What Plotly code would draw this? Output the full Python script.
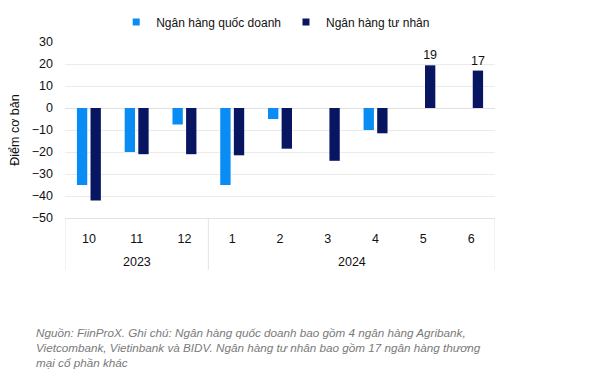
import plotly.graph_objects as go

years = ["2023", "2023", "2023", "2024", "2024", "2024", "2024", "2024", "2024"]
months = ["10", "11", "12", "1", "2", "3", "4", "5", "6"]
state_banks = [-35, -20, -7.5, -35, -5, None, -10, None, None]
private_banks = [-42, -21, -21, -21.5, -18.5, -24, -11.5, 19.4, 17]
name_state = "Ngân hàng quốc doanh"
name_private = "Ngân hàng tư nhân"
y_title = "Điểm cơ bản"
note = ("Nguồn: FiinProX. Ghi chú: Ngân hàng quốc doanh bao gồm 4 ngân hàng Agribank,<br>"
        "Vietcombank, Vietinbank và BIDV. Ngân hàng tư nhân bao gồm 17 ngân hàng thương<br>"
        "mại cổ phần khác")

C_STATE = "#0A8CF5"
C_PRIV = "#081662"
FONT = "Liberation Sans"
DIV_COLOR = "#e3e3e3"

idx = list(range(len(months)))
fig = go.Figure()
fig.add_bar(x=idx, y=state_banks, marker_color=C_STATE, name=name_state, showlegend=False,
            marker_line_width=0)
priv_text = [f"{v:.0f}" if v is not None and v > 0 else "" for v in private_banks]
fig.add_bar(x=idx, y=private_banks, marker_color=C_PRIV, name=name_private, showlegend=False,
            text=priv_text, textposition="outside", cliponaxis=False, constraintext="none",
            textfont=dict(size=12.5, color="#111111"), marker_line_width=0)
# legend proxies
for nm, c in [(name_state, C_STATE), (name_private, C_PRIV)]:
    fig.add_scatter(x=[None], y=[None], mode="markers", name=nm,
                    marker=dict(symbol="square", size=7, color=c))

# year groups: labels + dividers derived from the years list
groups = []
for i, yv in enumerate(years):
    if groups and groups[-1][0] == yv:
        groups[-1][2] = i
    else:
        groups.append([yv, i, i])
annotations = []
shapes = []
bounds = sorted({g[1] - 0.5 for g in groups} | {g[2] + 0.5 for g in groups})
for b in bounds:
    shapes.append(dict(type="line", xref="x", yref="paper", x0=b, x1=b, y0=0, y1=-0.295,
                       line=dict(color=DIV_COLOR, width=1)))
for yv, i0, i1 in groups:
    annotations.append(dict(text=yv, xref="x", yref="paper", x=(i0 + i1) / 2, y=-0.25,
                            xanchor="center", yanchor="middle", showarrow=False,
                            font=dict(family=FONT, size=12.5, color="#111111")))
annotations.append(dict(text=note, xref="paper", yref="paper", x=-0.072, y=-0.6,
                        xanchor="left", yanchor="top", align="left", showarrow=False,
                        font=dict(family=FONT, size=11.7, color="#7a7a7a", style="italic")))

# page body has an 8px margin: figure is shrunk and offset accordingly
fig.update_layout(
    width=607, height=366,
    margin=dict(l=57, r=120, t=34, b=156, autoexpand=False),
    paper_bgcolor="white", plot_bgcolor="white",
    font=dict(family=FONT, size=12, color="#111111"),
    barmode="group", bargap=0.43, bargroupgap=0.24,
    showlegend=True,
    legend=dict(orientation="h", x=0.49, xanchor="center", y=1.114, yanchor="middle",
                font=dict(size=12, color="#111111"), itemwidth=30, tracegroupgap=0,
                bgcolor="rgba(0,0,0,0)"),
    annotations=annotations,
    shapes=shapes,
)
fig.update_yaxes(range=[-50, 30], dtick=10, showgrid=True, gridcolor="#ebebeb", gridwidth=1,
                 zeroline=True, zerolinecolor="#e0e0e0", zerolinewidth=1,
                 ticklabelstandoff=11, tickfont=dict(size=12.5),
                 title=dict(text=y_title, standoff=10, font=dict(size=12.5)))
fig.update_xaxes(range=[-0.5, len(months) - 0.5], tickmode="array", tickvals=idx, ticktext=months,
                 showgrid=False, zeroline=False, showline=True, linecolor=DIV_COLOR,
                 ticks="", ticklabelstandoff=9, tickfont=dict(size=12.5))

fig.write_html("out.html")
